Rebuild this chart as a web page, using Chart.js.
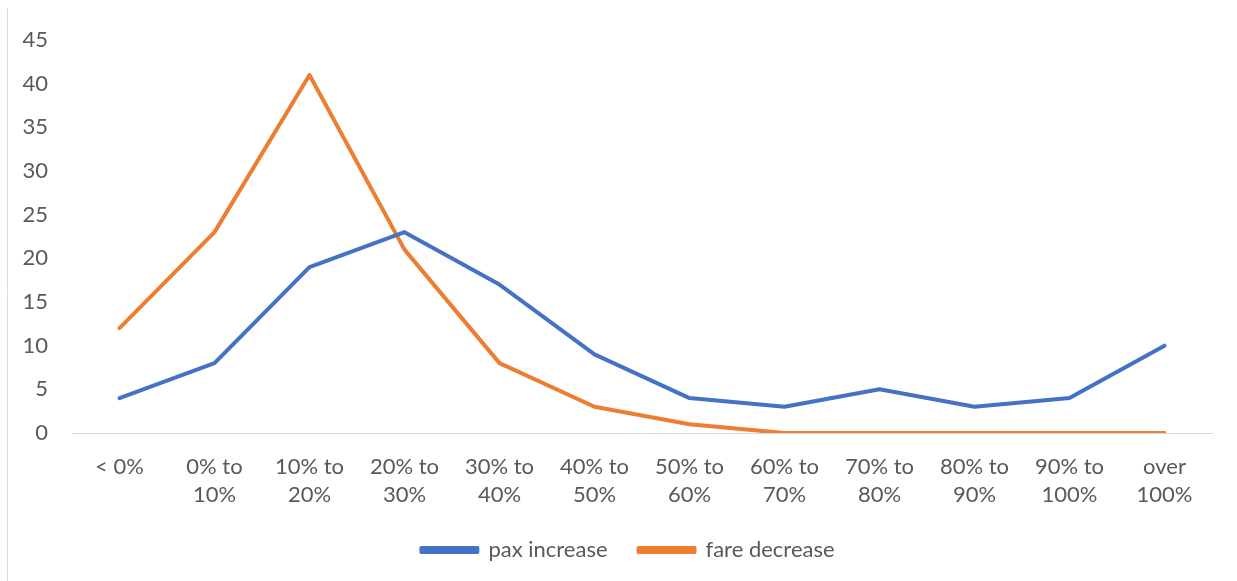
<!DOCTYPE html>
<html>
<head>
<meta charset="utf-8">
<script src="https://cdn.jsdelivr.net/npm/chart.js"></script>
<style>
  html, body { margin: 0; padding: 0; background: #fff; }
  #wrap { width: 1237px; height: 581px; position: relative; }
</style>
</head>
<body>
<div id="wrap"><canvas id="mycanvas" width="1237" height="581"></canvas></div>
<script>
// categories and values
var categories = [
  ['< 0%'], ['0% to', '10%'], ['10% to', '20%'], ['20% to', '30%'],
  ['30% to', '40%'], ['40% to', '50%'], ['50% to', '60%'], ['60% to', '70%'],
  ['70% to', '80%'], ['80% to', '90%'], ['90% to', '100%'], ['over', '100%']
];
var paxIncrease = [4, 8, 19, 23, 17, 9, 4, 3, 5, 3, 4, 10];
var fareDecrease = [12, 23, 41, 21, 8, 3, 1, 0, 0, 0, 0, 0];
var yTicks = [0, 5, 10, 15, 20, 25, 30, 35, 40, 45];

var textColor = '#595959';
var fontFamily = 'Lato, "Open Sans", sans-serif';

// faint border on the left like the excel frame
var leftBorder = {
  id: 'leftBorder',
  beforeDraw: function(chart) {
    var c = chart.ctx;
    c.save();
    c.strokeStyle = '#d9d9d9';
    c.lineWidth = 1;
    c.beginPath();
    c.moveTo(7.5, 8);
    c.lineTo(7.5, 581);
    c.stroke();
    c.restore();
  }
};

// legend sits a bit right of the canvas centre in the original
var legendShift = {
  id: 'legendShift',
  afterLayout: function(chart) {
    if (chart.legend) {
      chart.legend.left += 22;
      chart.legend.right += 22;
    }
  }
};

var chartdata = {
  labels: categories,
  datasets: [
    {
      label: 'pax increase',
      data: paxIncrease,
      borderColor: '#4472C4',
      backgroundColor: '#4472C4',
      borderWidth: 4
    },
    {
      label: 'fare decrease',
      data: fareDecrease,
      borderColor: '#ED7D31',
      backgroundColor: '#ED7D31',
      borderWidth: 4
    }
  ]
};

var ctx = document.getElementById('mycanvas');

var lineGraph = new Chart(ctx, {
  type: 'line',
  data: chartdata,
  plugins: [leftBorder, legendShift],
  options: {
    responsive: false,
    animation: false,
    devicePixelRatio: 1,
    layout: { padding: { top: 40, right: 25, bottom: 10, left: 0 } },
    elements: {
      point: { radius: 0, hoverRadius: 0 },
      line: { tension: 0, borderCapStyle: 'round', borderJoinStyle: 'round' }
    },
    plugins: {
      tooltip: { enabled: false },
      legend: {
        position: 'bottom',
        labels: {
          color: textColor,
          font: { family: fontFamily, size: 22 },
          boxWidth: 56,
          boxHeight: 4,
          padding: 31
        }
      }
    },
    scales: {
      x: {
        offset: true,
        grid: { display: false, drawTicks: false },
        border: { display: true, color: '#d9d9d9', width: 1 },
        ticks: {
          color: textColor,
          font: { family: fontFamily, size: 22, lineHeight: 1.28 },
          padding: 20,
          maxRotation: 0,
          autoSkip: false
        },
        afterFit: function(scale) { scale.height = 75; }
      },
      y: {
        min: 0,
        max: 45,
        afterBuildTicks: function(scale) {
          scale.ticks = yTicks.map(function(v) { return { value: v }; });
        },
        grid: { display: false, drawTicks: false },
        border: { display: false },
        ticks: {
          color: textColor,
          font: { family: fontFamily, size: 22 },
          padding: 24
        },
        afterFit: function(scale) { scale.width = 72; }
      }
    }
  }
});
</script>
</body>
</html>
